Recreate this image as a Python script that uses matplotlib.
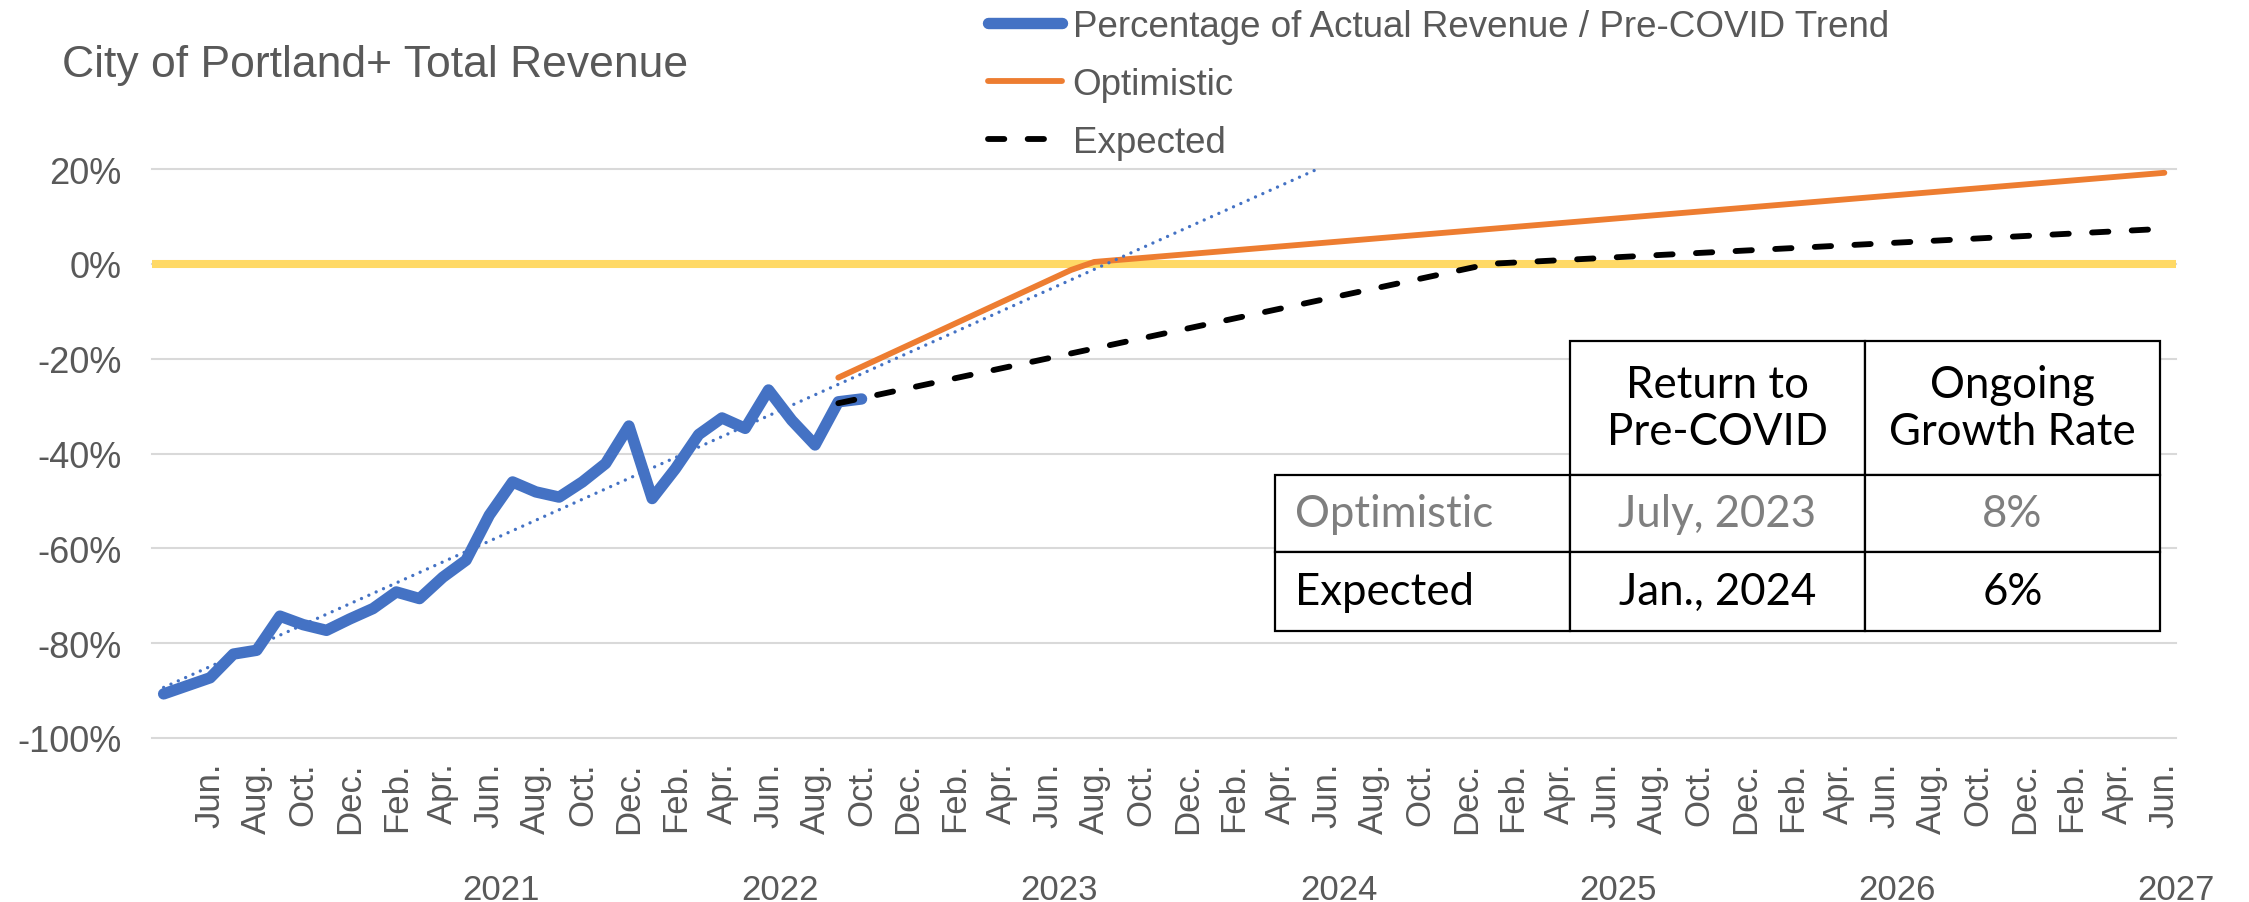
import numpy as np
import matplotlib.pyplot as plt
from matplotlib.patches import Rectangle

plt.rcParams['font.family'] = ['Liberation Sans', 'DejaVu Sans']

# month index 0 = Apr. 2020
actual_month = list(range(0, 31))
actual_pct = [-90.7, -89.0, -87.3, -82.3, -81.5, -74.3, -76.1, -77.3, -74.9, -72.7,
              -69.2, -70.6, -66.1, -62.5, -53.0, -46.0, -48.1, -49.2, -46.0, -42.1,
              -34.2, -49.5, -43.2, -36.0, -32.5, -34.7, -26.6, -33.0, -38.2, -29.1,
              -28.5]

optimistic_month = [29, 39, 40, 86]
optimistic_pct = [-24.0, -1.3, 0.4, 19.2]

expected_month = [29, 57, 86]
expected_pct = [-29.4, 0.0, 7.4]

month_names = ['Jan.', 'Feb.', 'Mar.', 'Apr.', 'May', 'Jun.',
               'Jul.', 'Aug.', 'Sep.', 'Oct.', 'Nov.', 'Dec.']
first_month = 3  # April
n_months = 87
label_years = [2021, 2022, 2023, 2024, 2025, 2026, 2027]

table_head = ['Return to\nPre-COVID', 'Ongoing\nGrowth Rate']
table_rows = ['Optimistic', 'Expected']
table_return = ['July, 2023', 'Jan., 2024']
table_growth = ['8%', '6%']
table_colors = ['#7F7F7F', 'black']

W, H = 2249, 903
grey = '#595959'

fig = plt.figure(figsize=(W / 100, H / 100), dpi=100)
ax = fig.add_axes([152 / W, 1 - 739 / H, (2176 - 152) / W, 569 / H])

ax.axhline(0, color='#FFD966', lw=5.8, zorder=1)
ax.plot(optimistic_month, optimistic_pct, color='#ED7D31', lw=4.2,
        solid_capstyle='round', zorder=2, label='Optimistic')

# linear trend of the actual series, extended forward
coef = np.polyfit(actual_month, actual_pct, 1)
tx = np.array([0, 60])
ax.plot(tx, np.polyval(coef, tx), color='#4472C4', lw=2.4,
        dashes=(0.01, 2.4), dash_capstyle='round', zorder=3)

ax.plot(actual_month, actual_pct, color='#4472C4', lw=8.2,
        solid_capstyle='round', solid_joinstyle='round', zorder=4,
        label='Percentage of Actual Revenue / Pre-COVID Trend')
ax.plot(expected_month, expected_pct, color='black', lw=4.2,
        dashes=(2.8, 4.0), dash_capstyle='round', zorder=5, label='Expected')

ax.set_xlim(-0.5, n_months - 0.5)
ax.set_ylim(-100, 20)
yt = list(range(-100, 21, 20))
ax.set_yticks(yt)
ax.set_yticklabels([f'{v}%' for v in yt])
xt = list(range(2, n_months, 2))
ax.set_xticks(xt)
ax.set_xticklabels([month_names[(first_month + i) % 12] for i in xt], rotation=90)
ax.tick_params(axis='y', length=0, pad=22, labelsize=26, labelcolor=grey)
ax.tick_params(axis='x', length=0, pad=17, labelsize=25, labelcolor=grey)
ax.grid(axis='y', color='#D9D9D9', lw=1.5)
ax.set_axisbelow(True)
for gl in ax.get_ygridlines():
    gl.set_clip_on(False)
for s in ax.spines.values():
    s.set_visible(False)

for yr in label_years:
    xi = (yr - 2020) * 12 + 5 - first_month + 0.5
    ax.text(xi, -0.267, str(yr), transform=ax.get_xaxis_transform(),
            ha='center', va='center', fontsize=25, color=grey)

fig.text(62 / W, 1 - 66 / H, 'City of Portland+ Total Revenue', fontsize=32,
         color=grey, ha='left', va='center')

h, l = ax.get_legend_handles_labels()
order = [1, 0, 2]
leg = fig.legend([h[i] for i in order], [l[i] for i in order], loc='upper left',
                 bbox_to_anchor=(988 / W, 1 - 10 / H), frameon=False, fontsize=26.5,
                 handlelength=2.0, handletextpad=0.3, labelspacing=0.62,
                 borderpad=0, borderaxespad=0)
for t in leg.get_texts():
    t.set_color(grey)


# table drawn in figure pixels
def box(x0, y0, x1, y1, edge=True):
    fig.add_artist(Rectangle((x0 / W, 1 - y1 / H), (x1 - x0) / W, (y1 - y0) / H,
                             transform=fig.transFigure, facecolor='white',
                             edgecolor='black' if edge else 'none', lw=1.6,
                             zorder=10))


cx = [1275, 1570, 1865, 2160]
cy = [342, 476, 553, 632]
tfont = ['Lato', 'DejaVu Sans']
tsize = 31.5
for c in range(2):
    box(cx[c + 1], cy[0], cx[c + 2], cy[1])
    fig.text((cx[c + 1] + cx[c + 2]) / 2 / W, 1 - (cy[0] + cy[1]) / 2 / H,
             table_head[c], ha='center', va='center', fontsize=tsize,
             family=tfont, linespacing=1.2, zorder=11)
for r in range(2):
    for c in range(3):
        box(cx[c], cy[r + 1], cx[c + 1], cy[r + 2])
    ymid = 1 - (cy[r + 1] + cy[r + 2]) / 2 / H
    fig.text((cx[0] + 20) / W, ymid, table_rows[r], ha='left', va='center',
             fontsize=tsize, family=tfont, color=table_colors[r], zorder=11)
    fig.text((cx[1] + cx[2]) / 2 / W, ymid, table_return[r], ha='center',
             va='center', fontsize=tsize, family=tfont, color=table_colors[r], zorder=11)
    fig.text((cx[2] + cx[3]) / 2 / W, ymid, table_growth[r], ha='center',
             va='center', fontsize=tsize, family=tfont, color=table_colors[r], zorder=11)

fig.savefig('out.png', dpi=100)
